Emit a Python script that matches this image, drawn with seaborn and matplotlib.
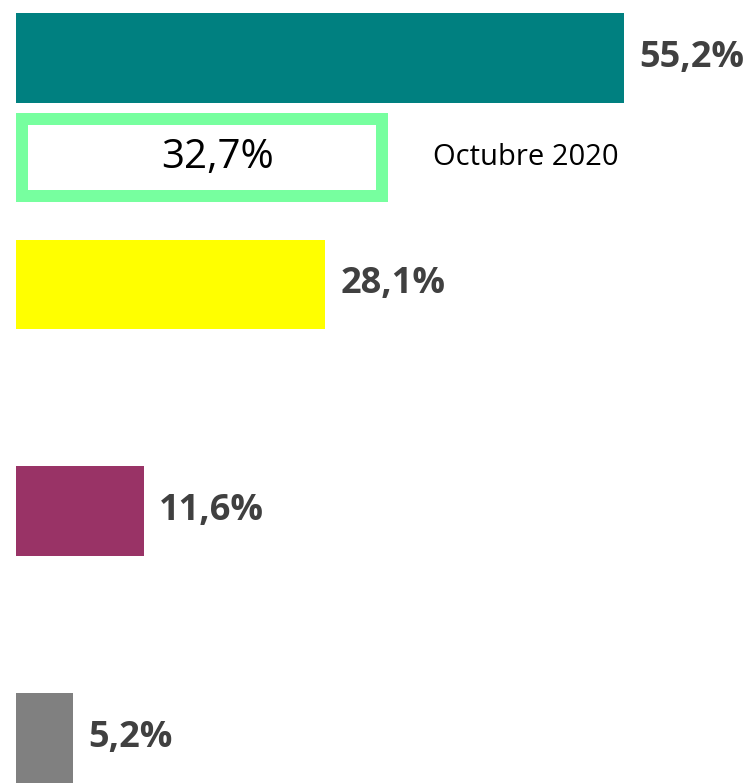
import pandas as pd
import matplotlib
matplotlib.use("Agg")
import matplotlib.pyplot as plt
import seaborn as sns

# data
grupos = ["Grupo 1", "Grupo 2", "Grupo 3", "Grupo 4"]
actual = [55.2, 28.1, 11.6, 5.2]
colores = ["#008080", "#FFFF00", "#993366", "#808080"]
octubre_grupos = ["Grupo 1"]
octubre_2020 = [32.7]

df = pd.concat([
    pd.DataFrame({"grupo": grupos, "valor": actual, "serie": "Actual"}),
    pd.DataFrame({"grupo": octubre_grupos, "valor": octubre_2020, "serie": "Octubre 2020"}),
])

sns.set_style("white")
plt.rcParams["font.family"] = ["Open Sans", "DejaVu Sans"]

fig = plt.figure(figsize=(7.49, 7.83), dpi=100)
ax = fig.add_axes([0, 0, 1, 1])

sns.barplot(data=df, y="grupo", x="valor", hue="serie", order=grupos,
            hue_order=["Actual", "Octubre 2020"], orient="h",
            width=0.88, gap=0.1, palette=["#008080", "white"],
            legend=False, ax=ax)

ax.set_xlim(-1.45, 66.6)
ax.set_ylim(2.978, -0.474)

# current series: one colour per bar, bold labels at the end
for bar, c in zip(ax.containers[0], colores):
    bar.set_facecolor(c)
    bar.set_edgecolor("none")
ax.bar_label(ax.containers[0], labels=[f"{v:.1f}%".replace(".", ",") for v in actual],
             padding=11, fontsize=26, fontweight="bold", color="#404040")

# October 2020: outlined bar, stroke kept inside the bar
lw_px = 12
px_x = (66.6 + 1.45) / 749
px_y = (2.978 + 0.474) / 783
for bar in ax.containers[1]:
    bar.set_facecolor("white")
    bar.set_edgecolor("#77FF9F")
    bar.set_linewidth(lw_px * 0.72)
    bar.set_x(bar.get_x() + lw_px / 2 * px_x)
    bar.set_y(bar.get_y() + lw_px / 2 * px_y)
    bar.set_height(bar.get_height() - lw_px * px_y)

bx = ax.containers[1][0]
yc = bx.get_y() + bx.get_height() / 2
ax.text(bx.get_x() + bx.get_width() / 2 + 16 * px_x, yc,
        f"{octubre_2020[0]:.1f}%".replace(".", ","),
        ha="center", va="center", fontsize=29, color="black")
ax.text(37.9, yc, "Octubre 2020", ha="left", va="center", fontsize=21, color="black")

ax.axis("off")

plt.savefig("out.png", dpi=100, facecolor="white")
